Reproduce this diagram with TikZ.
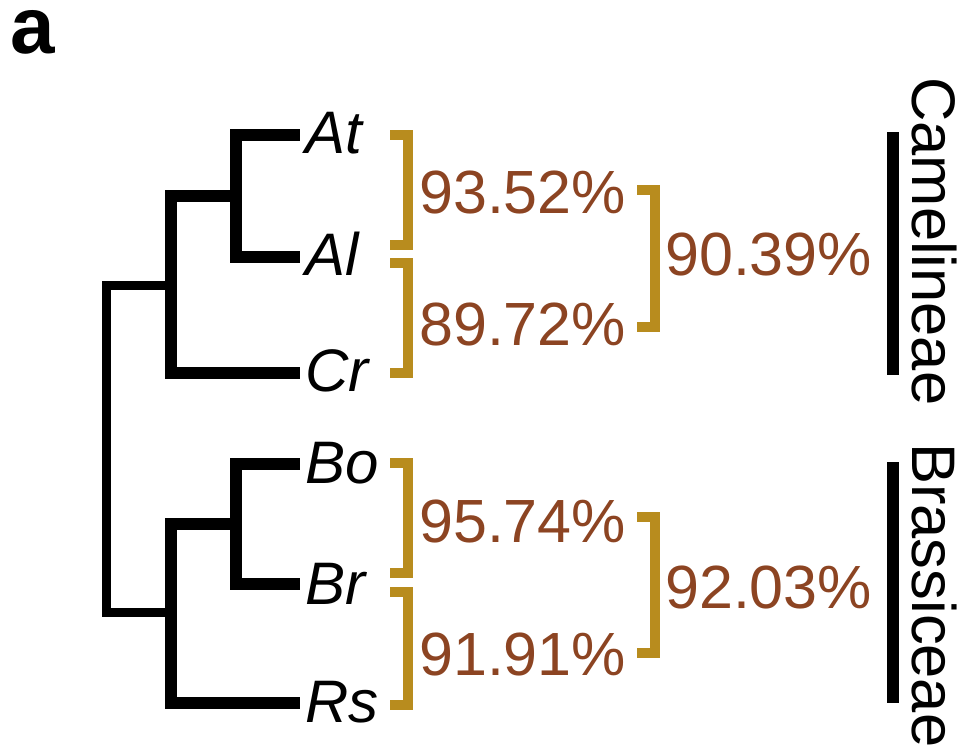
\documentclass[tikz,border=0pt]{standalone}
\usepackage{fontspec}
\setmainfont{Liberation Sans}
\definecolor{bgold}{RGB}{184,140,30}
\definecolor{pbrown}{RGB}{140,68,34}
\begin{document}
\begin{tikzpicture}[x=1pt,y=-1pt,
  branch/.style={line width=12pt,line cap=butt,line join=miter,black},
  rootbranch/.style={line width=9pt,line cap=butt,line join=miter,black},
  bracket/.style={line width=10pt,line cap=butt,line join=miter,bgold},
  leaf/.style={inner sep=0pt,anchor=base west,font=\fontsize{60}{60}\selectfont\itshape},
  pct/.style={inner sep=0pt,anchor=base west,text=pbrown,font=\fontsize{61}{61}\selectfont},
  clade/.style={inner sep=0pt,anchor=base west,rotate=-90,font=\fontsize{61.5}{61.5}\selectfont},
  cladebar/.style={line width=12pt,line cap=butt,black}]
\useasboundingbox (0,0) rectangle (961,755);
\node[inner sep=0pt,anchor=base west,text height=44pt,text depth=0pt,font=\fontsize{80}{80}\selectfont\bfseries] (lab) at (10,53) {a};
% leaf tips
\coordinate (tAt) at (300,135);
\coordinate (tAl) at (300,257);
\coordinate (tCr) at (300,373);
\coordinate (tBo) at (300,464);
\coordinate (tBr) at (300,584);
\coordinate (tRs) at (300,703);
% leaf labels
\node[leaf] (At) at (305,153) {At};
\node[leaf] (Al) at (305,275) {Al};
\node[leaf] (Cr) at (305,391) {Cr};
\node[leaf] (Bo) at (305,483) {Bo};
\node[leaf] (Br) at (305,604) {Br};
\node[leaf] (Rs) at (305,722) {Rs};
% internal nodes
\coordinate (n1) at (236,196);
\coordinate (n2) at (171,285);
\coordinate (n3) at (236,524);
\coordinate (n4) at (171,612);
\coordinate (root) at (106,448);
% tree
\draw[branch] (n1) |- (tAt);
\draw[branch] (n1) |- (tAl);
\draw[branch] (n2) |- (n1);
\draw[branch] (n2) |- (tCr);
\draw[branch] (n3) |- (tBo);
\draw[branch] (n3) |- (tBr);
\draw[branch] (n4) |- (n3);
\draw[branch] (n4) |- (tRs);
\draw[rootbranch] (root) |- (n2);
\draw[rootbranch] (root) |- (n4);
% brackets
\draw[bracket] (390,135) -- (408,135) -- (408,245) -- (390,245);
\draw[bracket] (390,263) -- (408,263) -- (408,373) -- (390,373);
\draw[bracket] (637,190) -- (655,190) -- (655,327) -- (637,327);
\draw[bracket] (390,463) -- (408,463) -- (408,573) -- (390,573);
\draw[bracket] (390,592) -- (408,592) -- (408,705) -- (390,705);
\draw[bracket] (637,517) -- (655,517) -- (655,653) -- (637,653);
% percentages
\node[pct] (p1) at (419,213) {93.52\%};
\node[pct] (p2) at (419,345) {89.72\%};
\node[pct] (p3) at (665,275) {90.39\%};
\node[pct] (p4) at (419,542) {95.74\%};
\node[pct] (p5) at (419,675) {91.91\%};
\node[pct] (p6) at (665,608) {92.03\%};
% clade bars and labels
\draw[cladebar] (893,132) -- (893,375);
\draw[cladebar] (893,462) -- (893,703);
\node[clade] (cam) at (912,77) {Camelineae};
\node[clade] (bra) at (912,443) {Brassiceae};
\end{tikzpicture}
\end{document}
